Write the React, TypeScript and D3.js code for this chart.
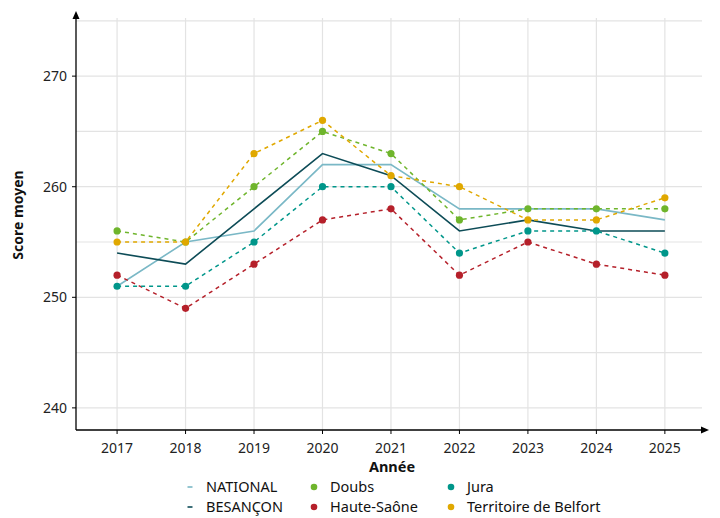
import React from "react";
import * as d3 from "d3";

const years = [2017, 2018, 2019, 2020, 2021, 2022, 2023, 2024, 2025];
const national = [251, 255, 256, 262, 262, 258, 258, 258, 257];
const besancon = [254, 253, 258, 263, 261, 256, 257, 256, 256];
const doubs = [256, 255, 260, 265, 263, 257, 258, 258, 258];
const hauteSaone = [252, 249, 253, 257, 258, 252, 255, 253, 252];
const jura = [251, 251, 255, 260, 260, 254, 256, 256, 254];
const belfort = [255, 255, 263, 266, 261, 260, 257, 257, 259];
const yTicks = [240, 250, 260, 270];

const series = [
  { name: "NATIONAL", values: national, color: "#7ab8c6", dashed: false, points: false, width: 1.6 },
  { name: "BESANÇON", values: besancon, color: "#0d4c57", dashed: false, points: false, width: 1.6 },
  { name: "Doubs", values: doubs, color: "#6fb52c", dashed: true, points: true, width: 1.5 },
  { name: "Haute-Saône", values: hauteSaone, color: "#b5202a", dashed: true, points: true, width: 1.5 },
  { name: "Jura", values: jura, color: "#00968a", dashed: true, points: true, width: 1.5 },
  { name: "Territoire de Belfort", values: belfort, color: "#e0a800", dashed: true, points: true, width: 1.5 },
];

const FONT = "'Noto Sans', 'DejaVu Sans', sans-serif";

export default function App() {
  const W = 720, H = 518;
  const left = 76, right = 708, top = 12, bottom = 430;
  const x = d3.scaleLinear().domain([2016.4, 2025.63]).range([left, right]);
  const y = d3.scaleLinear().domain([238, 275.8]).range([bottom, top]);
  const line = d3.line<number>().x((_, i) => x(years[i])).y((v) => y(v));
  const gridY = d3.range(240, 276, 5);

  const legendCols = [190, 314, 451];
  const legendRows = [487, 507];
  const legendPos = [
    [0, 0], [0, 1], [1, 0], [1, 1], [2, 0], [2, 1],
  ];

  return (
    <svg width={W} height={H} style={{ position: "absolute", left: 0, top: 0, fontFamily: FONT }}>
      <rect x={0} y={0} width={W} height={H} fill="#fff" />
      {gridY.map((g) => (
        <line key={"gy" + g} x1={left} x2={right - 6} y1={y(g)} y2={y(g)} stroke="#e3e3e3" strokeWidth={1.2} />
      ))}
      {years.map((yr) => (
        <line key={"gx" + yr} x1={x(yr)} x2={x(yr)} y1={top + 6} y2={bottom} stroke="#e3e3e3" strokeWidth={1.2} />
      ))}
      <line x1={left} x2={left} y1={bottom} y2={top + 4} stroke="#000" strokeWidth={1.3} />
      <path d={`M${left - 3.5},${top + 7} L${left},${top - 1} L${left + 3.5},${top + 7} Z`} fill="#000" />
      <line x1={left} x2={right - 4} y1={bottom} y2={bottom} stroke="#000" strokeWidth={1.3} />
      <path d={`M${right - 7},${bottom - 3.5} L${right + 1},${bottom} L${right - 7},${bottom + 3.5} Z`} fill="#000" />
      {yTicks.map((t) => (
        <g key={"yt" + t}>
          <line x1={left - 4} x2={left} y1={y(t)} y2={y(t)} stroke="#000" strokeWidth={1} />
          <text x={left - 9} y={y(t)} dy="0.35em" textAnchor="end" fontSize={14} fill="#222">{t}</text>
        </g>
      ))}
      {years.map((yr) => (
        <g key={"xt" + yr}>
          <line x1={x(yr)} x2={x(yr)} y1={bottom} y2={bottom + 4} stroke="#000" strokeWidth={1} />
          <text x={x(yr)} y={bottom + 23} textAnchor="middle" fontSize={14} fill="#222">{yr}</text>
        </g>
      ))}
      <text x={392} y={472} textAnchor="middle" fontSize={14.5} fontWeight="bold" fill="#111">Année</text>
      <text transform={`translate(23,215) rotate(-90)`} textAnchor="middle" fontSize={14} fontWeight="bold" fill="#111">Score moyen</text>
      {series.map((s) => (
        <g key={s.name}>
          <path d={line(s.values) || ""} fill="none" stroke={s.color} strokeWidth={s.width}
            strokeDasharray={s.dashed ? "4,4" : undefined} />
          {s.points && s.values.map((v, i) => (
            <circle key={i} cx={x(years[i])} cy={y(v)} r={3.6} fill={s.color} />
          ))}
        </g>
      ))}
      {series.map((s, i) => {
        const [c, r] = legendPos[i];
        const lx = legendCols[c], ly = legendRows[r];
        return (
          <g key={"lg" + s.name}>
            {s.points ? (
              <circle cx={lx} cy={ly} r={3.3} fill={s.color} />
            ) : (
              <line x1={lx - 2.5} x2={lx + 2.5} y1={ly} y2={ly} stroke={s.color} strokeWidth={1.6} />
            )}
            <text x={lx + 16} y={ly} dy="0.35em" fontSize={14.5} fill="#111">{s.name}</text>
          </g>
        );
      })}
    </svg>
  );
}
